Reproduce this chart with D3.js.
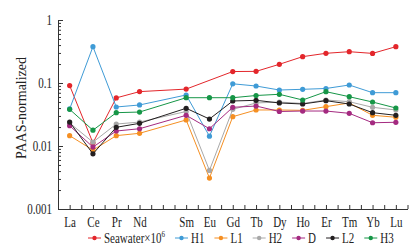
<!DOCTYPE html>
<html>
<head>
<meta charset="utf-8">
<script src="https://cdn.jsdelivr.net/npm/d3@7"></script>
<style>
  body { margin: 0; background: #fff; }
  text { font-family: "Liberation Serif", "Times New Roman", serif; fill: #222; }
</style>
</head>
<body>
<div id="chart-area"></div>
<script>
// REE positions (Pm has no data and no label)
var elements = ["La", "Ce", "Pr", "Nd", "Pm", "Sm", "Eu", "Gd", "Tb", "Dy", "Ho", "Er", "Tm", "Yb", "Lu"];
var hiddenLabels = ["Pm"];

// PAAS-normalized values (null = no point)
var seawater = [0.091, 0.0112, 0.058, 0.073, null, 0.080, null, 0.152, 0.153, 0.198, 0.262, 0.296, 0.314, 0.295, 0.377];
var h1 = [0.0387, 0.377, 0.0416, 0.0448, null, 0.0645, 0.0143, 0.0971, 0.0896, 0.0774, 0.0794, 0.0818, 0.0929, 0.0702, 0.0702];
var l1 = [0.0146, 0.0086, 0.0146, 0.0159, null, 0.0259, 0.0031, 0.0292, 0.0373, 0.0373, 0.0368, 0.0421, 0.0482, 0.0307, 0.0286];
var h2 = [0.0232, 0.0115, 0.0223, 0.0240, null, 0.0353, 0.0041, 0.0382, 0.0482, 0.0499, 0.0473, 0.0537, 0.0505, 0.0411, 0.0373];
var dd = [0.0210, 0.0096, 0.0173, 0.0188, null, 0.0307, 0.0188, 0.0411, 0.0431, 0.0353, 0.0359, 0.0359, 0.0330, 0.0234, 0.0238];
var l2 = [0.0240, 0.0075, 0.0198, 0.0229, null, 0.0397, 0.0268, 0.0518, 0.0531, 0.0482, 0.0464, 0.0524, 0.0464, 0.0338, 0.0307];
var h3 = [0.0382, 0.0178, 0.0338, 0.0346, null, 0.0584, 0.0584, 0.0584, 0.0633, 0.0662, 0.0537, 0.0728, 0.0606, 0.0499, 0.0401];

var seriesNames = ["Seawater×10", "H1", "L1", "H2", "D", "L2", "H3"];
var seriesValues = [seawater, h1, l1, h2, dd, l2, h3];
var seriesColors = ["#e3262b", "#3f9bd6", "#f58f22", "#a8a8a8", "#a42a80", "#231f20", "#169647"];

var yTickLabels = ["0.001", "0.01", "0.1", "1"];

// sizes
var svgWidth = 420, svgHeight = 252;
var x0 = 58, x1 = 407.5, yTop = 20, yBottom = 209;
var stretch = 1.3; // the figure's text looks squeezed horizontally

var svg = d3.select("#chart-area").append("svg")
	.attr("width", svgWidth)
	.attr("height", svgHeight);

// scales
var xScale = d3.scaleLinear()
	.domain([-0.5, elements.length - 0.5])
	.range([x0, x1]);

var yScale = d3.scaleLog()
	.domain([0.001, 1])
	.range([yBottom, yTop]);

// y axis, ticks point inward
var yTicks = [];
[0.001, 0.01, 0.1].forEach(function(dec) {
	for (var k = 1; k < 10; k++) yTicks.push(dec * k);
});
yTicks.push(1);
function isMajor(v) {
	return Math.abs(Math.log10(v) - Math.round(Math.log10(v))) < 1e-6;
}

var yAxisCall = d3.axisLeft(yScale)
	.tickValues(yTicks)
	.tickSizeInner(-5)
	.tickSizeOuter(0)
	.tickPadding(6)
	.tickFormat(function(d) {
		return isMajor(d) ? yTickLabels[Math.round(Math.log10(d)) + 3] : "";
	});

var yAxis = svg.append("g")
	.attr("class", "y-axis")
	.attr("transform", "translate(" + x0 + ",0)")
	.call(yAxisCall);
yAxis.selectAll(".tick line")
	.attr("x2", function(d) { return isMajor(d) ? 5 : 3; });
yAxis.selectAll("text")
	.filter(function() { return this.textContent === ""; })
	.remove();
yAxis.selectAll("text")
	.attr("font-size", 11)
	.attr("font-family", "Liberation Serif")
	.attr("fill", "#222")
	.attr("transform", "scale(1," + stretch + ")");

// x axis, ticks every half step
var xAxisCall = d3.axisBottom(xScale)
	.tickValues(d3.range(0, elements.length * 2).map(function(i) { return i / 2; }))
	.tickSizeInner(-4)
	.tickSizeOuter(0)
	.tickFormat(function(d) {
		if (d % 1 !== 0) return "";
		var name = elements[d];
		return hiddenLabels.indexOf(name) >= 0 ? "" : name;
	});

var xAxis = svg.append("g")
	.attr("class", "x-axis")
	.attr("transform", "translate(0," + yBottom + ")")
	.call(xAxisCall);
xAxis.selectAll("text")
	.filter(function() { return this.textContent === ""; })
	.remove();
xAxis.selectAll("text")
	.attr("y", 6)
	.attr("font-size", 11)
	.attr("font-family", "Liberation Serif")
	.attr("fill", "#222")
	.attr("transform", "scale(1," + stretch + ")");

svg.selectAll(".domain, .tick line").attr("stroke", "#333").attr("stroke-width", 1);

// y label
svg.append("text")
	.attr("transform", "translate(26,108) rotate(-90)")
	.attr("text-anchor", "middle")
	.attr("font-size", 14)
	.text("PAAS-normalized");

// series
var line = d3.line()
	.x(function(d) { return xScale(d.i); })
	.y(function(d) { return yScale(d.v); });

var plot = svg.append("g").attr("class", "series");

seriesValues.forEach(function(vals, s) {
	var pts = vals.map(function(v, i) { return { i: i, v: v }; })
		.filter(function(d) { return d.v != null; });
	var g = plot.append("g");
	g.append("path")
		.datum(pts)
		.attr("d", line)
		.attr("fill", "none")
		.attr("stroke", seriesColors[s])
		.attr("stroke-width", 1);
	g.selectAll("circle")
		.data(pts)
		.enter()
		.append("circle")
		.attr("cx", function(d) { return xScale(d.i); })
		.attr("cy", function(d) { return yScale(d.v); })
		.attr("r", 2.6)
		.attr("fill", seriesColors[s]);
});

// legend
var legend = svg.append("g").attr("class", "legend");
var lx = 88, ly = 238;
seriesNames.forEach(function(name, s) {
	var item = legend.append("g");
	item.append("line")
		.attr("x1", lx).attr("x2", lx + 13)
		.attr("y1", ly).attr("y2", ly)
		.attr("stroke", seriesColors[s]);
	item.append("circle")
		.attr("cx", lx + 6.5).attr("cy", ly)
		.attr("r", 2.2)
		.attr("fill", seriesColors[s]);
	var t = item.append("text")
		.attr("transform", "translate(" + (lx + 16) + "," + (ly + 4.5) + ") scale(1," + stretch + ")")
		.attr("font-size", 11)
		.text(name);
	if (s === 0) {
		t.append("tspan").attr("dy", -4).attr("font-size", 7).text("6");
	}
	lx += 16 + t.node().getComputedTextLength() + 10;
});
</script>
</body>
</html>
